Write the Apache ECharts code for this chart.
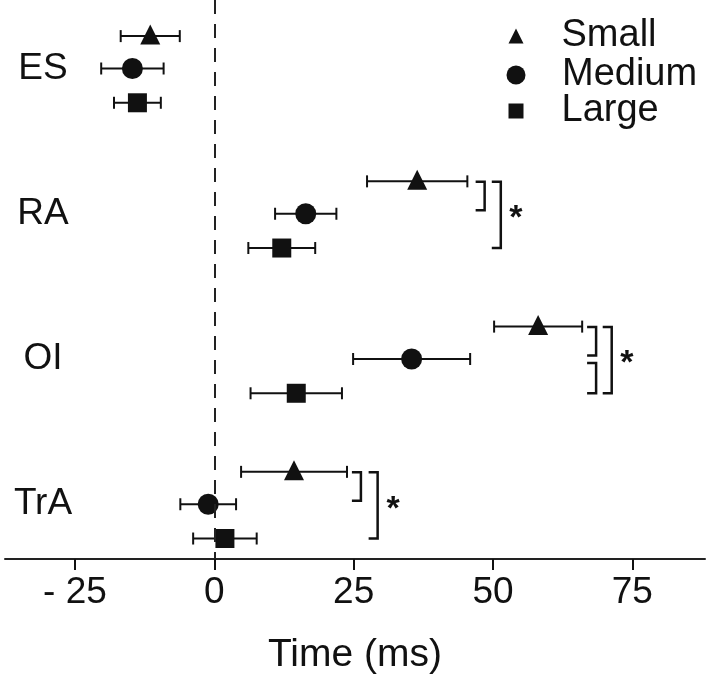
<!DOCTYPE html>
<html>
<head>
<meta charset="utf-8">
<script src="https://cdn.jsdelivr.net/npm/echarts@6/dist/echarts.min.js"></script>
<style>
html,body{margin:0;padding:0;background:#fff;}
#chart{width:709px;height:680px;}
</style>
</head>
<body>
<div id="chart"></div>
<script>
// ---- data ----
const categories = ['ES', 'RA', 'OI', 'TrA'];
const sizeNames = ['Small', 'Medium', 'Large'];
const smallMean = [-11.5, 36.4, 58.1, 14.3];
const smallErr = [5.3, 9.0, 7.9, 9.5];
const mediumMean = [-14.7, 16.4, 35.4, -1.1];
const mediumErr = [5.6, 5.5, 10.5, 5.0];
const largeMean = [-13.8, 12.1, 14.7, 1.9];
const largeErr = [4.2, 6.0, 8.2, 5.7];
const xTicks = [-25, 0, 25, 50, 75];
// significance brackets: muscle index, from size, to size, x position (ms)
const bracketGroup = [1, 1, 2, 2, 2, 3, 3];
const bracketFrom = [0, 0, 0, 1, 0, 0, 0];
const bracketTo = [1, 2, 1, 2, 2, 1, 2];
const bracketX = [48.5, 51.4, 68.5, 68.5, 71.3, 26.3, 29.3];
const starGroup = [1, 2, 3];
const starX = [54.1, 74.0, 32.1];

// ---- layout ----
const sizeOffset = [-0.223, 0, 0.236];
const FONT = 'Liberation Sans, Arial, sans-serif';
const INK = '#111';

const means = [smallMean, mediumMean, largeMean];
const errs = [smallErr, mediumErr, largeErr];
const symbols = ['triangle', 'circle', 'rect'];
const symSizes = [20, 21, 19];
const symOffsets = [[0, -1.5], [0, 0], [0, 0]];

function errRender(sizeIdx) {
  return function (params, api) {
    const g = api.value(0), lo = api.value(1), hi = api.value(2);
    const y = g + sizeOffset[sizeIdx];
    const p1 = api.coord([lo, y]), p2 = api.coord([hi, y]);
    const cap = 6;
    const style = { stroke: INK, lineWidth: 2 };
    return {
      type: 'group', children: [
        { type: 'line', shape: { x1: p1[0], y1: p1[1], x2: p2[0], y2: p2[1] }, style: style },
        { type: 'line', shape: { x1: p1[0], y1: p1[1] - cap, x2: p1[0], y2: p1[1] + cap }, style: style },
        { type: 'line', shape: { x1: p2[0], y1: p2[1] - cap, x2: p2[0], y2: p2[1] + cap }, style: style }
      ]
    };
  };
}

const series = [];
for (let s = 0; s < 3; s++) {
  series.push({
    name: sizeNames[s] + ' error',
    type: 'custom',
    z: 2,
    renderItem: errRender(s),
    encode: { x: [1, 2], y: 0 },
    data: means[s].map((m, i) => [i, m - errs[s][i], m + errs[s][i]])
  });
  series.push({
    name: sizeNames[s],
    type: 'scatter',
    z: 3,
    symbol: symbols[s],
    symbolSize: symSizes[s],
    symbolOffset: symOffsets[s],
    itemStyle: { color: INK, opacity: 1 },
    emphasis: { disabled: true },
    data: means[s].map((m, i) => [m, i + sizeOffset[s]])
  });
}

series.push({
  name: 'brackets',
  type: 'custom',
  z: 2,
  renderItem: function (params, api) {
    const g = api.value(0), f = api.value(1), t = api.value(2), x = api.value(3);
    const pTop = api.coord([x, g + sizeOffset[f]]);
    const pBot = api.coord([x, g + sizeOffset[t]]);
    let yTop = pTop[1] + (f === 1 ? 4 : 0.5);
    let yBot = pBot[1] + (t === 1 ? -3.5 : 0);
    const xx = pTop[0], arm = 9;
    return {
      type: 'polyline',
      shape: { points: [[xx - arm, yTop], [xx, yTop], [xx, yBot], [xx - arm, yBot]] },
      style: { stroke: INK, lineWidth: 2.5, fill: null }
    };
  },
  encode: { x: 3, y: 0 },
  data: bracketGroup.map((g, i) => [g, bracketFrom[i], bracketTo[i], bracketX[i]]),
  markLine: {
    silent: true,
    symbol: 'none',
    label: { show: false },
    lineStyle: { type: [14, 10], width: 2, color: '#222' },
    data: [{ xAxis: 0 }]
  }
});

series.push({
  name: 'stars',
  type: 'custom',
  z: 2,
  renderItem: function (params, api) {
    const g = api.value(0), x = api.value(1);
    const p = api.coord([x, g + (sizeOffset[0] + sizeOffset[2]) / 2]);
    return {
      type: 'text',
      x: p[0], y: p[1] + 4,
      style: { text: '*', fontSize: 34, fontFamily: FONT, fontWeight: 'bold', fill: INK, align: 'center', verticalAlign: 'middle' }
    };
  },
  encode: { x: 1, y: 0 },
  data: starGroup.map((g, i) => [g, starX[i]])
});

function legendFor(idx, size, top, padLeft, padBottom) {
  return {
    data: [{ name: sizeNames[idx], icon: symbols[idx] }],
    left: 516 - size / 2, top: top,
    orient: 'vertical',
    padding: 0,
    itemWidth: size, itemHeight: size,
    selectedMode: false,
    itemStyle: { color: INK, opacity: 1 },
    textStyle: { fontSize: 38, fontFamily: FONT, color: INK, lineHeight: 38, padding: [0, 0, padBottom, padLeft] }
  };
}

const option = {
  animation: false,
  backgroundColor: '#fff',
  grid: { left: 5, right: 4, top: 0, bottom: 117, containLabel: false },
  legend: [legendFor(0, 15, 12, 33, 10), legendFor(1, 19, 50, 31.5, 12), legendFor(2, 15, 89, 33, 6)],
  xAxis: {
    type: 'value',
    min: -37.56, max: 88.04,
    name: 'Time (ms)',
    nameLocation: 'middle',
    nameGap: 77,
    nameTextStyle: { fontSize: 39, fontFamily: FONT, color: INK },
    axisLine: { show: true, onZero: false, lineStyle: { color: '#222', width: 2 } },
    axisTick: { show: true, customValues: xTicks, length: 11, lineStyle: { color: INK, width: 2 } },
    axisLabel: {
      customValues: xTicks, margin: 15, fontSize: 37, fontFamily: FONT, color: INK,
      formatter: v => (v < 0 ? '- ' + Math.abs(v) : String(v))
    },
    splitLine: { show: false }
  },
  yAxis: {
    type: 'value',
    inverse: true,
    min: -0.4716, max: 3.377,
    axisLine: { show: false },
    axisTick: { show: false },
    splitLine: { show: false },
    axisLabel: {
      inside: true, customValues: [0, 1, 2, 3], margin: 38, align: 'center',
      fontSize: 37, fontFamily: FONT, color: INK,
      formatter: v => categories[Math.round(v)]
    }
  },
  series: series
};

const chart = echarts.init(document.getElementById('chart'), null, { renderer: 'canvas' });
chart.setOption(option);
</script>
</body>
</html>
